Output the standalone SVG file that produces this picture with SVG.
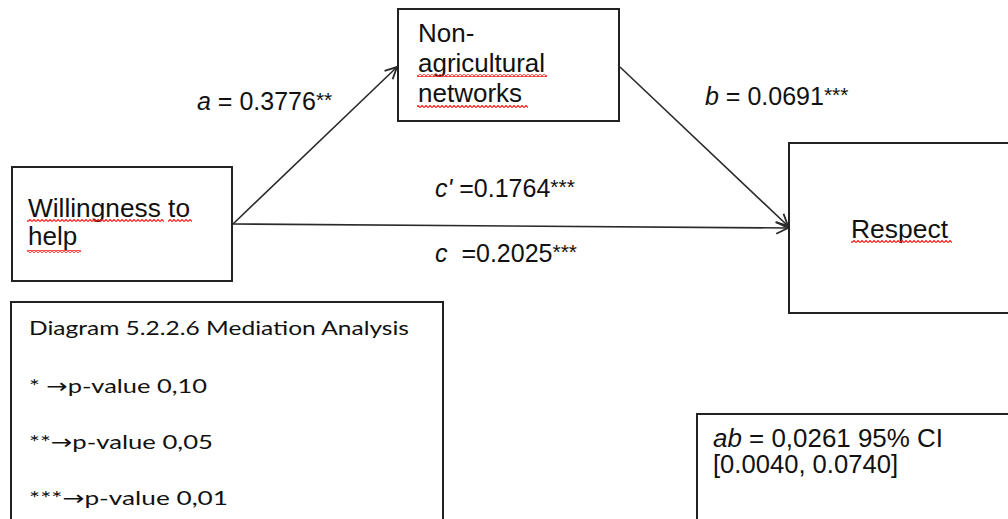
<svg xmlns="http://www.w3.org/2000/svg" width="1008" height="519" viewBox="0 0 1008 519">
  <defs>
    <style>
      .box { fill: #ffffff; stroke: #222222; stroke-width: 2; }
      .edge { fill: none; stroke: #2a2a2a; stroke-width: 1.6; }
      .lbl { font-family: "Liberation Sans", Arial, sans-serif; font-size: 25px; fill: #111111; }
      .node { font-family: "Liberation Sans", Arial, sans-serif; font-size: 26px; fill: #111111; }
      .note { font-family: Lato, "Open Sans", sans-serif; font-size: 20px; fill: #111111; }
      .arr { font-family: "DejaVu Sans", sans-serif; font-size: 20px; }
      .it { font-style: italic; }
      .sig { font-size: 21px; }
      .spell { fill: url(#squiggle); }
    </style>
    <marker id="open-arrow" viewBox="0 0 12 12" refX="11" refY="6" markerWidth="14" markerHeight="14" markerUnits="userSpaceOnUse" orient="auto">
      <path d="M1,1 L11,6 L1,11" fill="none" stroke="#2a2a2a" stroke-width="1.6"/>
    </marker>
    <!-- red wavy underline used under flagged words -->
    <pattern id="squiggle" x="0" y="0" width="4" height="3" patternUnits="userSpaceOnUse">
      <path d="M0,2.5 L2,0.5 L4,2.5" fill="none" stroke="#ff2020" stroke-width="1.2"/>
    </pattern>
  </defs>

  <!-- connectors -->
  <g id="connectors">
    <line class="edge" x1="233" y1="224" x2="397" y2="67" marker-end="url(#open-arrow)"/>
    <line class="edge" x1="620" y1="67" x2="788" y2="226" marker-end="url(#open-arrow)"/>
    <line class="edge" x1="233" y1="224" x2="788" y2="228" marker-end="url(#open-arrow)"/>
  </g>

  <!-- path labels -->
  <g id="labels">
    <text class="lbl" x="197" y="110"><tspan class="it">a</tspan> = 0.3776<tspan class="sig" dy="-3">**</tspan></text>
    <text class="lbl" x="705" y="105"><tspan class="it">b</tspan> = 0.0691<tspan class="sig" dy="-3">***</tspan></text>
    <text class="lbl" x="435" y="197"><tspan class="it">c'</tspan> =0.1764<tspan class="sig" dy="-3">***</tspan></text>
    <text class="lbl" x="435" y="262" xml:space="preserve"><tspan class="it">c</tspan>  =0.2025<tspan class="sig" dy="-3">***</tspan></text>
  </g>

  <g id="node-willingness">
    <rect class="box" x="12" y="167" width="220" height="114"/>
    <text class="node" x="28" y="217" textLength="162" lengthAdjust="spacingAndGlyphs">Willingness to</text>
    <text class="node" x="28" y="245">help</text>
    <rect class="spell" x="27" y="219" width="137" height="3"/>
    <rect class="spell" x="168" y="219" width="24" height="3"/>
    <rect class="spell" x="27" y="250" width="54" height="3"/>
  </g>

  <g id="node-nonagricultural">
    <rect class="box" x="398" y="9" width="221" height="112"/>
    <text class="node" x="418" y="42">Non-</text>
    <text class="node" x="418" y="72" textLength="127" lengthAdjust="spacingAndGlyphs">agricultural</text>
    <text class="node" x="418" y="102">networks</text>
    <rect class="spell" x="417" y="74" width="130" height="3"/>
    <rect class="spell" x="417" y="105" width="111" height="3"/>
  </g>

  <g id="node-respect">
    <rect class="box" x="789" y="143" width="240" height="170"/>
    <text class="node" x="851" y="238" textLength="97" lengthAdjust="spacingAndGlyphs">Respect</text>
    <rect class="spell" x="851" y="240" width="101" height="3"/>
  </g>

  <g id="legend">
    <rect class="box" x="11" y="302" width="432" height="240"/>
    <text class="note" x="29" y="335" textLength="380" lengthAdjust="spacingAndGlyphs">Diagram 5.2.2.6 Mediation Analysis</text>
    <text class="note" x="29" y="393" textLength="178" lengthAdjust="spacingAndGlyphs">* <tspan class="arr">→</tspan>p-value 0,10</text>
    <text class="note" x="29" y="449" textLength="184" lengthAdjust="spacingAndGlyphs">**<tspan class="arr">→</tspan>p-value 0,05</text>
    <text class="note" x="29" y="505" textLength="199" lengthAdjust="spacingAndGlyphs">***<tspan class="arr">→</tspan>p-value 0,01</text>
  </g>

  <g id="indirect-effect">
    <rect class="box" x="697" y="414" width="330" height="130"/>
    <text class="lbl" x="713" y="447" textLength="230" lengthAdjust="spacingAndGlyphs"><tspan class="it">ab</tspan> = 0,0261 95% CI</text>
    <text class="lbl" x="713" y="473" textLength="185" lengthAdjust="spacingAndGlyphs">[0.0040, 0.0740]</text>
  </g>
</svg>
